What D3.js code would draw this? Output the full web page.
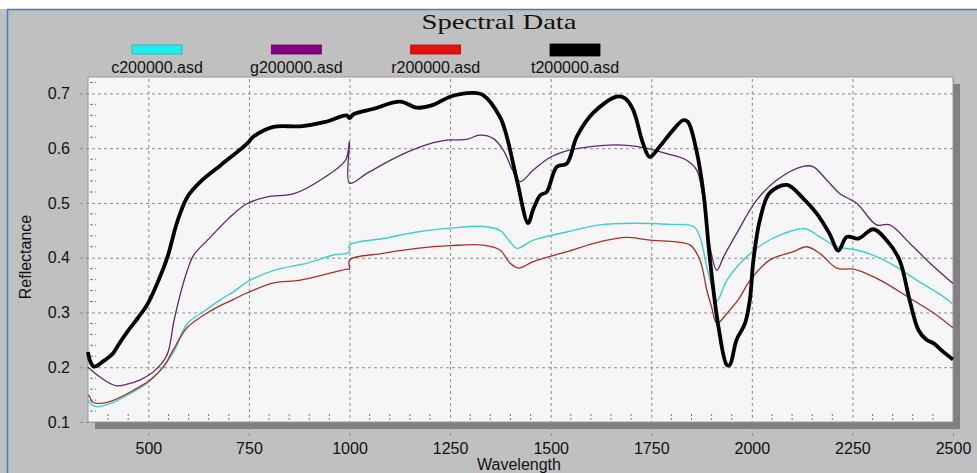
<!DOCTYPE html>
<html>
<head>
<meta charset="utf-8">
<script src="https://cdn.jsdelivr.net/npm/d3@7"></script>
<style>
  body { margin: 0; background: #fff; }
  text { font-family: Arial, "Liberation Sans", sans-serif; }
</style>
</head>
<body>
<svg id="specsvg" width="977" height="473"></svg>
<script>
// series names and legend colours
const seriesNames = ['c200000.asd', 'g200000.asd', 'r200000.asd', 't200000.asd'];
const legendColors = ['#22eeee', '#800080', '#e41010', '#000000'];
const lineColors = ['#3ccfcf', '#5e2770', '#a8302a', '#000000'];

const xTicks = [500, 750, 1000, 1250, 1500, 1750, 2000, 2250, 2500];
const yTicks = [0.1, 0.2, 0.3, 0.4, 0.5, 0.6, 0.7];

// c200000.asd
const wl_c = [350, 360, 372, 406, 447, 497, 530, 563, 597, 646, 680, 712, 746, 812, 895, 960, 999, 1000,
  1084, 1167, 1250, 1333, 1374, 1399, 1416, 1457, 1540, 1622, 1705, 1788, 1855, 1871, 1888, 1905, 1913,
  1938, 1979, 2029, 2079, 2132, 2169, 2211, 2261, 2310, 2360, 2410, 2476, 2500];
const refl_c = [0.14, 0.131, 0.128, 0.134, 0.149, 0.171, 0.195, 0.228, 0.28, 0.306, 0.324, 0.338, 0.356, 0.377, 0.39, 0.405, 0.41, 0.423,
  0.435, 0.447, 0.454, 0.457, 0.45, 0.429, 0.417, 0.432, 0.447, 0.46, 0.463, 0.461, 0.457, 0.438, 0.383, 0.335, 0.32,
  0.359, 0.396, 0.426, 0.444, 0.453, 0.438, 0.42, 0.414, 0.402, 0.383, 0.359, 0.329, 0.315];

// g200000.asd
const wl_g = [350, 373, 406, 422, 447, 480, 513, 546, 564, 580, 597, 613, 655, 704, 746, 796, 862, 928, 990, 1000, 1000,
  1043, 1126, 1209, 1250, 1291, 1324, 1357, 1382, 1407, 1424, 1457, 1498, 1540, 1581, 1664, 1730, 1788, 1838, 1863,
  1880, 1896, 1913, 1930, 1962, 2012, 2062, 2128, 2153, 2186, 2219, 2261, 2310, 2343, 2393, 2443, 2500];
const refl_g = [0.2, 0.186, 0.17, 0.166, 0.169, 0.177, 0.192, 0.222, 0.286, 0.335, 0.377, 0.405, 0.438, 0.475, 0.499, 0.511, 0.517, 0.542, 0.578, 0.612, 0.536,
  0.554, 0.587, 0.61, 0.615, 0.616, 0.624, 0.618, 0.597, 0.557, 0.539, 0.56, 0.583, 0.595, 0.601, 0.606, 0.601, 0.59, 0.578, 0.56,
  0.505, 0.42, 0.377, 0.402, 0.444, 0.505, 0.542, 0.567, 0.566, 0.542, 0.517, 0.499, 0.46, 0.46, 0.426, 0.39, 0.353];

// r200000.asd
const wl_r = [350, 355, 360, 381, 414, 463, 505, 538, 563, 596, 646, 680, 712, 746, 812, 878, 994, 1000, 1000,
  1084, 1167, 1250, 1333, 1374, 1399, 1420, 1457, 1540, 1622, 1688, 1747, 1814, 1847, 1871, 1888, 1900, 1913,
  1940, 1966, 1996, 2045, 2103, 2136, 2169, 2211, 2252, 2285, 2327, 2393, 2450, 2500];
const refl_r = [0.15, 0.145, 0.137, 0.134, 0.14, 0.158, 0.177, 0.201, 0.233, 0.272, 0.299, 0.313, 0.324, 0.336, 0.354, 0.359, 0.379, 0.379, 0.396,
  0.408, 0.417, 0.422, 0.423, 0.414, 0.39, 0.381, 0.393, 0.411, 0.429, 0.437, 0.432, 0.429, 0.423, 0.396, 0.341, 0.31, 0.28,
  0.3, 0.323, 0.359, 0.396, 0.411, 0.42, 0.408, 0.381, 0.379, 0.371, 0.356, 0.326, 0.3, 0.272];

// t200000.asd
const wl_t = [350, 355, 365, 390, 413, 423, 448, 473, 497, 522, 547, 572, 597, 630, 680, 746, 761, 811, 878, 940, 993, 1000,
  1010, 1060, 1126, 1167, 1208, 1250, 1307, 1332, 1374, 1391, 1416, 1444, 1456, 1474, 1490, 1515, 1540, 1565, 1605, 1664,
  1685, 1705, 1729, 1746, 1771, 1804, 1829, 1841, 1862, 1880, 1896, 1917, 1938, 1945, 1962, 1983, 1995, 2004, 2020, 2044,
  2087, 2128, 2161, 2193, 2215, 2236, 2265, 2302, 2335, 2367, 2392, 2414, 2434, 2451, 2476, 2500];
const refl_t = [0.228, 0.212, 0.201, 0.212, 0.226, 0.238, 0.265, 0.289, 0.314, 0.353, 0.4, 0.466, 0.511, 0.539, 0.569, 0.609, 0.621, 0.639, 0.64, 0.648, 0.66, 0.655,
  0.662, 0.672, 0.685, 0.674, 0.679, 0.694, 0.701, 0.697, 0.657, 0.621, 0.542, 0.463, 0.487, 0.514, 0.52, 0.566, 0.572, 0.621, 0.664, 0.694,
  0.691, 0.67, 0.61, 0.584, 0.603, 0.633, 0.651, 0.648, 0.597, 0.517, 0.396, 0.274, 0.204, 0.204, 0.25, 0.28, 0.323, 0.396, 0.469, 0.518,
  0.533, 0.508, 0.481, 0.444, 0.413, 0.438, 0.435, 0.452, 0.432, 0.396, 0.323, 0.268, 0.25, 0.244, 0.228, 0.214];

const seriesWl = [wl_c, wl_g, wl_r, wl_t];
const seriesRefl = [refl_c, refl_g, refl_r, refl_t];
const lineWidths = [1.4, 1.3, 1.3, 3.8];

const svg = d3.select('#specsvg');
const width = +svg.attr('width');
const height = +svg.attr('height');
const margin = {top: 77, right: 24, left: 88, bottom: 51};
const innerWidth = width - margin.left - margin.right;
const innerHeight = height - margin.top - margin.bottom;

// window frame
svg.append('rect').attr('x', 0).attr('y', 9).attr('width', width).attr('height', height - 9).attr('fill', '#c0c0c0');
svg.append('line').attr('x1', 7).attr('x2', width).attr('y1', 9.5).attr('y2', 9.5).attr('stroke', '#3d7fc4').attr('stroke-width', 1.5);
svg.append('line').attr('x1', 7.5).attr('x2', 7.5).attr('y1', 9).attr('y2', height).attr('stroke', '#3d7fc4').attr('stroke-width', 1.5);

svg.append('text')
    .attr('x', 499).attr('y', 29)
    .attr('text-anchor', 'middle')
    .attr('textLength', 155).attr('lengthAdjust', 'spacingAndGlyphs')
    .style('font-family', '"Liberation Serif", "Times New Roman", serif')
    .style('font-size', '22px')
    .attr('fill', '#111')
    .text('Spectral Data');

// legend
const legendX = d3.scalePoint().domain(seriesNames).range([157, 575]);
const legend = svg.append('g').selectAll('g').data(seriesNames).enter().append('g')
    .attr('transform', d => `translate(${legendX(d)}, 0)`);
legend.append('rect')
    .attr('x', -25).attr('y', (d, i) => i === 3 ? 44 : 45)
    .attr('width', 50).attr('height', (d, i) => i === 3 ? 12 : 9)
    .attr('fill', (d, i) => legendColors[i])
    .attr('stroke', (d, i) => i === 3 ? '#000' : d3.color(legendColors[i]).darker(0.8))
    .attr('stroke-width', 0.8);
legend.append('text')
    .attr('y', 73).attr('text-anchor', 'middle')
    .style('font-size', '16px').attr('fill', '#111')
    .text(d => d);

const g = svg.append('g')
    .attr('transform', `translate(${margin.left}, ${margin.top})`);

const xScale = d3.scaleLinear().domain([350, 2500]).range([0, innerWidth]);
const yScale = d3.scaleLinear().domain([0.1, 0.73]).range([innerHeight, 0]);

// drop shadow + plot area
g.append('rect').attr('x', 7).attr('y', 7).attr('width', innerWidth).attr('height', innerHeight).attr('fill', '#808080');
g.append('rect').attr('width', innerWidth).attr('height', innerHeight).attr('fill', '#f6f6f6')
    .attr('stroke', '#9a9a9a').attr('stroke-width', 1);

// grid
const xAxisG = g.append('g').attr('class', 'x-axis')
    .call(d3.axisBottom(xScale).tickValues(xTicks).tickSize(-innerHeight - 14).tickPadding(15).tickFormat(d3.format('d')))
    .attr('transform', `translate(0, ${innerHeight + 14})`);
const yAxisG = g.append('g').attr('class', 'y-axis')
    .call(d3.axisLeft(yScale).tickValues(yTicks).tickSize(-innerWidth - 8).tickPadding(10).tickFormat(d3.format('.1f')))
    .attr('transform', 'translate(-8, 0)');
[xAxisG, yAxisG].forEach(a => {
  a.select('.domain').remove();
  a.selectAll('line').attr('stroke', '#8c8c8c').attr('stroke-dasharray', '3,3');
  a.selectAll('text').style('font-size', '16px').attr('fill', '#111');
});
xAxisG.selectAll('text').attr('dy', '0.2em');

// minor ticks
const xMinor = d3.range(400, 2500, 50).filter(v => v % 250 !== 0);
g.append('g').selectAll('line').data(xMinor).enter().append('line')
    .attr('x1', d => xScale(d)).attr('x2', d => xScale(d))
    .attr('y1', innerHeight - 8).attr('y2', innerHeight - 1)
    .attr('stroke', '#777').attr('stroke-dasharray', '2,2');
const yMinor = d3.range(0.12, 0.73, 0.02).filter(v => Math.abs(v * 10 - Math.round(v * 10)) > 0.01);
g.append('g').selectAll('line').data(yMinor).enter().append('line')
    .attr('x1', 2).attr('x2', 8)
    .attr('y1', d => yScale(d)).attr('y2', d => yScale(d))
    .attr('stroke', '#777').attr('stroke-dasharray', '3,2');

// spectra
const lineGenerator = d3.line()
    .curve(d3.curveCatmullRom.alpha(0.5))
    .x(d => xScale(d[0]))
    .y(d => yScale(d[1]));
const plotG = g.append('g');
seriesNames.forEach((name, i) => {
  const pts = seriesWl[i].map((w, j) => [w, seriesRefl[i][j]]);
  plotG.append('path')
      .attr('class', 'line-path')
      .attr('d', lineGenerator(pts))
      .attr('fill', 'none')
      .attr('stroke', lineColors[i])
      .attr('stroke-width', lineWidths[i])
      .attr('stroke-linejoin', 'round');
});

// axis titles
svg.append('text')
    .attr('x', 519).attr('y', 470)
    .attr('text-anchor', 'middle')
    .style('font-size', '16px').attr('fill', '#111')
    .text('Wavelength');
svg.append('text')
    .attr('transform', 'translate(31, 257) rotate(-90)')
    .attr('text-anchor', 'middle')
    .style('font-size', '16px').attr('fill', '#111')
    .text('Reflectance');
</script>
</body>
</html>
